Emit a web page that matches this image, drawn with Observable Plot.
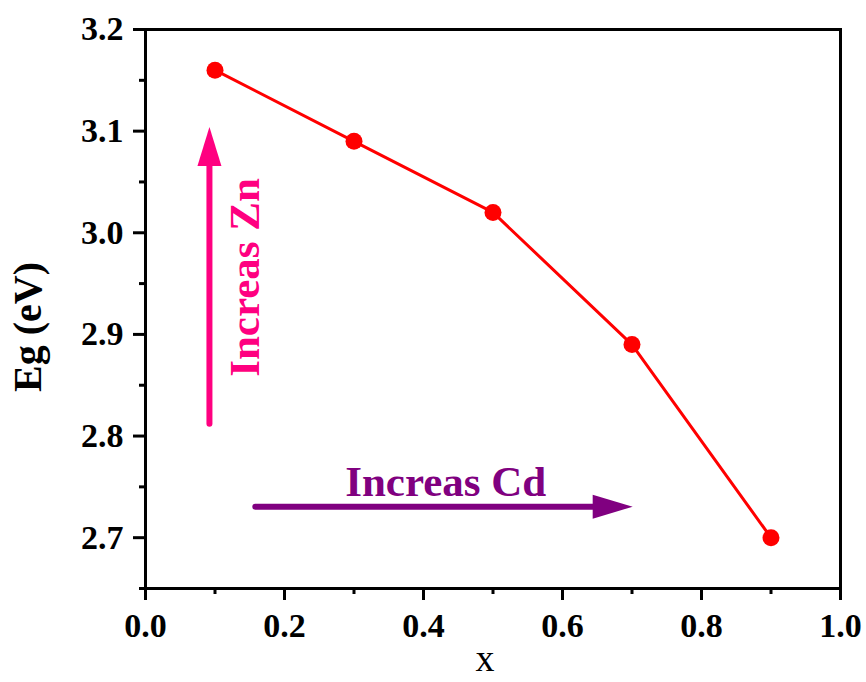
<!DOCTYPE html>
<html>
<head>
<meta charset="utf-8">
<script src="https://cdn.jsdelivr.net/npm/d3@7"></script>
<script src="https://cdn.jsdelivr.net/npm/@observablehq/plot@0.6"></script>
<style>
  html, body { margin: 0; padding: 0; background: #fff; }
  #chart svg, #chart svg text, #chart svg g { font-family: "Liberation Serif", "DejaVu Serif", "Times New Roman", Times, serif !important; }
</style>
</head>
<body>
<div id="chart"></div>
<script>
// ---- data ----
const xValues = [0.1, 0.3, 0.5, 0.7, 0.9];
const egValues = [3.16, 3.09, 3.02, 2.89, 2.70];

const xMajorTicks = [0, 0.2, 0.4, 0.6, 0.8, 1.0];
const xMinorTicks = [0.1, 0.3, 0.5, 0.7, 0.9];
const yMajorTicks = [2.7, 2.8, 2.9, 3.0, 3.1, 3.2];
const yMinorTicks = [2.65, 2.75, 2.85, 2.95, 3.05, 3.15];

// annotation arrows: tail, head base, tip (data units)
const arrowZn = {x: 0.092, tail: 2.812, base: 3.068, tip: 3.104};
const arrowCd = {y: 2.7305, tail: 0.158, base: 0.645, tip: 0.701};
const labelZn = {x: 0.144, y: 2.956, text: "Increas Zn"};
const labelCd = {x: 0.432, y: 2.755, text: "Increas Cd"};

const points = xValues.map((x, i) => ({x, eg: egValues[i]}));

// custom arrow-head symbol: tip at anchor, pointing up
function headSymbol(len, halfW) {
  return {
    draw(ctx) {
      ctx.moveTo(0, 0);
      ctx.lineTo(halfW, len);
      ctx.lineTo(-halfW, len);
      ctx.closePath();
    }
  };
}

const serif = "'Liberation Serif', 'DejaVu Serif', serif";
const pink = "#ff0080";
const purple = "#800080";

const chart = Plot.plot({
  width: 866,
  height: 682,
  marginLeft: 145,
  marginRight: 26,
  marginTop: 29,
  marginBottom: 94,
  style: {fontFamily: serif, fontWeight: "bold", background: "#fff"},
  x: {domain: [0, 1], label: null},
  y: {domain: [2.65, 3.2], label: null},
  marks: [
    Plot.axisX({ticks: xMinorTicks, tickSize: 6, strokeWidth: 3, tickFormat: () => "", label: null}),
    Plot.axisY({ticks: yMinorTicks, tickSize: 6, strokeWidth: 3, tickFormat: () => "", label: null}),
    Plot.axisX({ticks: xMajorTicks, tickSize: 12, tickPadding: 12, strokeWidth: 3, fontSize: 34, fontFamily: serif, fontWeight: "bold", fill: "#000", tickFormat: d3.format(".1f"), label: null}),
    Plot.axisY({ticks: yMajorTicks, tickSize: 12, tickPadding: 10, strokeWidth: 3, fontSize: 34, fontFamily: serif, fontWeight: "bold", fill: "#000", tickFormat: d3.format(".1f"), label: null}),
    Plot.frame({stroke: "#000", strokeWidth: 3}),
    // axis titles
    Plot.text(["Eg (eV)"], {frameAnchor: "left", dx: -117, dy: 18, rotate: -90, fontSize: 40, fontFamily: serif, fontWeight: "bold", fill: "#000", textAnchor: "middle", lineAnchor: "middle"}),
    Plot.text(["x"], {frameAnchor: "bottom", dx: -8, dy: 56, fontSize: 38, fontFamily: serif, fontWeight: "normal", fill: "#000", textAnchor: "middle", lineAnchor: "top"}),
    // data
    Plot.line(points, {x: "x", y: "eg", stroke: "#ff0000", strokeWidth: 3}),
    Plot.dot(points, {x: "x", y: "eg", r: 8.5, fill: "#ff0000", stroke: "none"}),
    // Zn arrow
    Plot.link([arrowZn], {x1: "x", x2: "x", y1: "tail", y2: "base", stroke: pink, strokeWidth: 6, strokeLinecap: "round"}),
    Plot.dot([arrowZn], {x: "x", y: "tip", symbol: headSymbol(39, 12), r: 5, fill: pink, stroke: "none"}),
    Plot.text([labelZn], {x: "x", y: "y", text: "text", rotate: -90, fontSize: 43, fontFamily: serif, fontWeight: "bold", fill: pink, textAnchor: "middle", lineAnchor: "middle"}),
    // Cd arrow
    Plot.link([arrowCd], {y1: "y", y2: "y", x1: "tail", x2: "base", stroke: purple, strokeWidth: 6, strokeLinecap: "round"}),
    Plot.dot([arrowCd], {x: "tip", y: "y", symbol: headSymbol(40, 12), rotate: 90, r: 5, fill: purple, stroke: "none"}),
    Plot.text([labelCd], {x: "x", y: "y", text: "text", fontSize: 43, fontFamily: serif, fontWeight: "bold", fill: purple, textAnchor: "middle", lineAnchor: "middle"})
  ]
});
document.getElementById("chart").appendChild(chart);
</script>
</body>
</html>
